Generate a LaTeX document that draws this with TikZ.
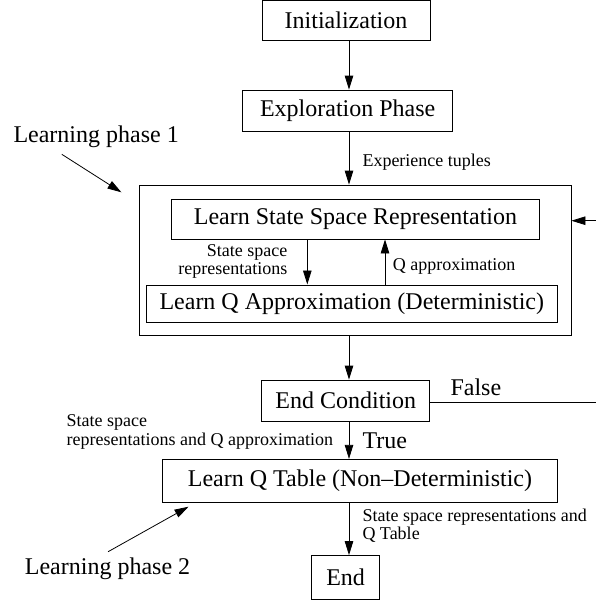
\documentclass[tikz,border=0pt]{standalone}
\usepackage{fontspec}
\setmainfont{Liberation Serif}
\usetikzlibrary{arrows.meta}
\begin{document}
\begin{tikzpicture}[x=1pt,y=-1pt,
  box/.style={draw, line width=0.8pt, inner sep=0pt, font=\fontsize{24}{28}\selectfont},
  lbl/.style={inner sep=0pt, font=\fontsize{18}{18.5}\selectfont},
  big/.style={inner sep=0pt, font=\fontsize{24}{28}\selectfont},
  arr/.style={line width=0.8pt, -{Triangle[length=14pt,width=8.5pt]}},
  ln/.style={line width=0.8pt}]
\useasboundingbox (0,0) rectangle (596,600);
\coordinate (spine) at (349,0);
% boxes
\node[box, minimum width=168pt, minimum height=40pt] (init) at (346,20.5) {Initialization};
\node[box, minimum width=210pt, minimum height=41pt] (explore) at (347.7,110.5) {Exploration Phase};
\node[draw, line width=0.8pt, minimum width=431.4pt, minimum height=150pt] (outer) at (355.3,260) {};
\node[box, minimum width=368pt, minimum height=40pt] (lssr) at (355.5,219) {Learn State Space Representation};
\node[box, minimum width=411.7pt, minimum height=37pt] (lqa) at (351.8,303.4) {Learn Q Approximation (Deterministic)};
\node[box, minimum width=168pt, minimum height=41pt] (endc) at (345.8,400.5) {End Condition};
\node[box, minimum width=395.3pt, minimum height=43pt] (lqt) at (360,480.8) {Learn Q Table (Non--Deterministic)};
\node[box, minimum width=67.6pt, minimum height=44pt] (end) at (345.6,577.5) {End};
% main chain
\draw[arr] (init.south -| spine) -- (explore.north -| spine);
\draw[arr] (explore.south -| spine) -- (outer.north -| spine);
\draw[arr] (outer.south -| spine) -- (endc.north -| spine);
\draw[arr] (endc.south -| spine) -- (lqt.north -| spine);
\draw[arr] (lqt.south -| spine) -- (end.north -| spine);
% inner arrows
\coordinate (downx) at (307.3,0);
\coordinate (upx) at (385,0);
\draw[arr] (lssr.south -| downx) -- (lqa.north -| downx);
\draw[arr] (lqa.north -| upx) -- (lssr.south -| upx);
% feedback
\coordinate (rin) at (596,220.7);
\coordinate (rfalse) at (596,402.3);
\draw[arr] (rin) -- (rin -| outer.east);
\draw[ln] (endc.east |- rfalse) -- (rfalse);
% labels
\node[lbl, anchor=west] (l1) at (362.3,162) {Experience tuples};
\node[lbl, anchor=east, align=right] (l2) at (287.5,261.5) {State space\\representations};
\node[lbl, anchor=west] (l3) at (392.6,266) {Q approximation};
\node[big, anchor=west] (lf) at (450.3,387) {False};
\node[big, anchor=west] (lt) at (362.3,441) {True};
\node[lbl, anchor=west, align=left] (l4) at (66.4,432) {State space\\representations and Q approximation};
\node[lbl, anchor=west, align=left] (l5) at (362.3,525.5) {State space representations and\\Q Table};
% learning phases
\node[big, anchor=west] (lp1) at (13.3,137) {Learning phase 1};
\node[big, anchor=west] (lp2) at (24.7,569) {Learning phase 2};
\coordinate (a1s) at (61.8,154.3);
\coordinate (a1e) at (121.4,192.3);
\coordinate (a2s) at (108.1,551.7);
\coordinate (a2e) at (188.5,506.7);
\draw[arr] (a1s) -- (a1e);
\draw[arr] (a2s) -- (a2e);
\end{tikzpicture}
\end{document}
